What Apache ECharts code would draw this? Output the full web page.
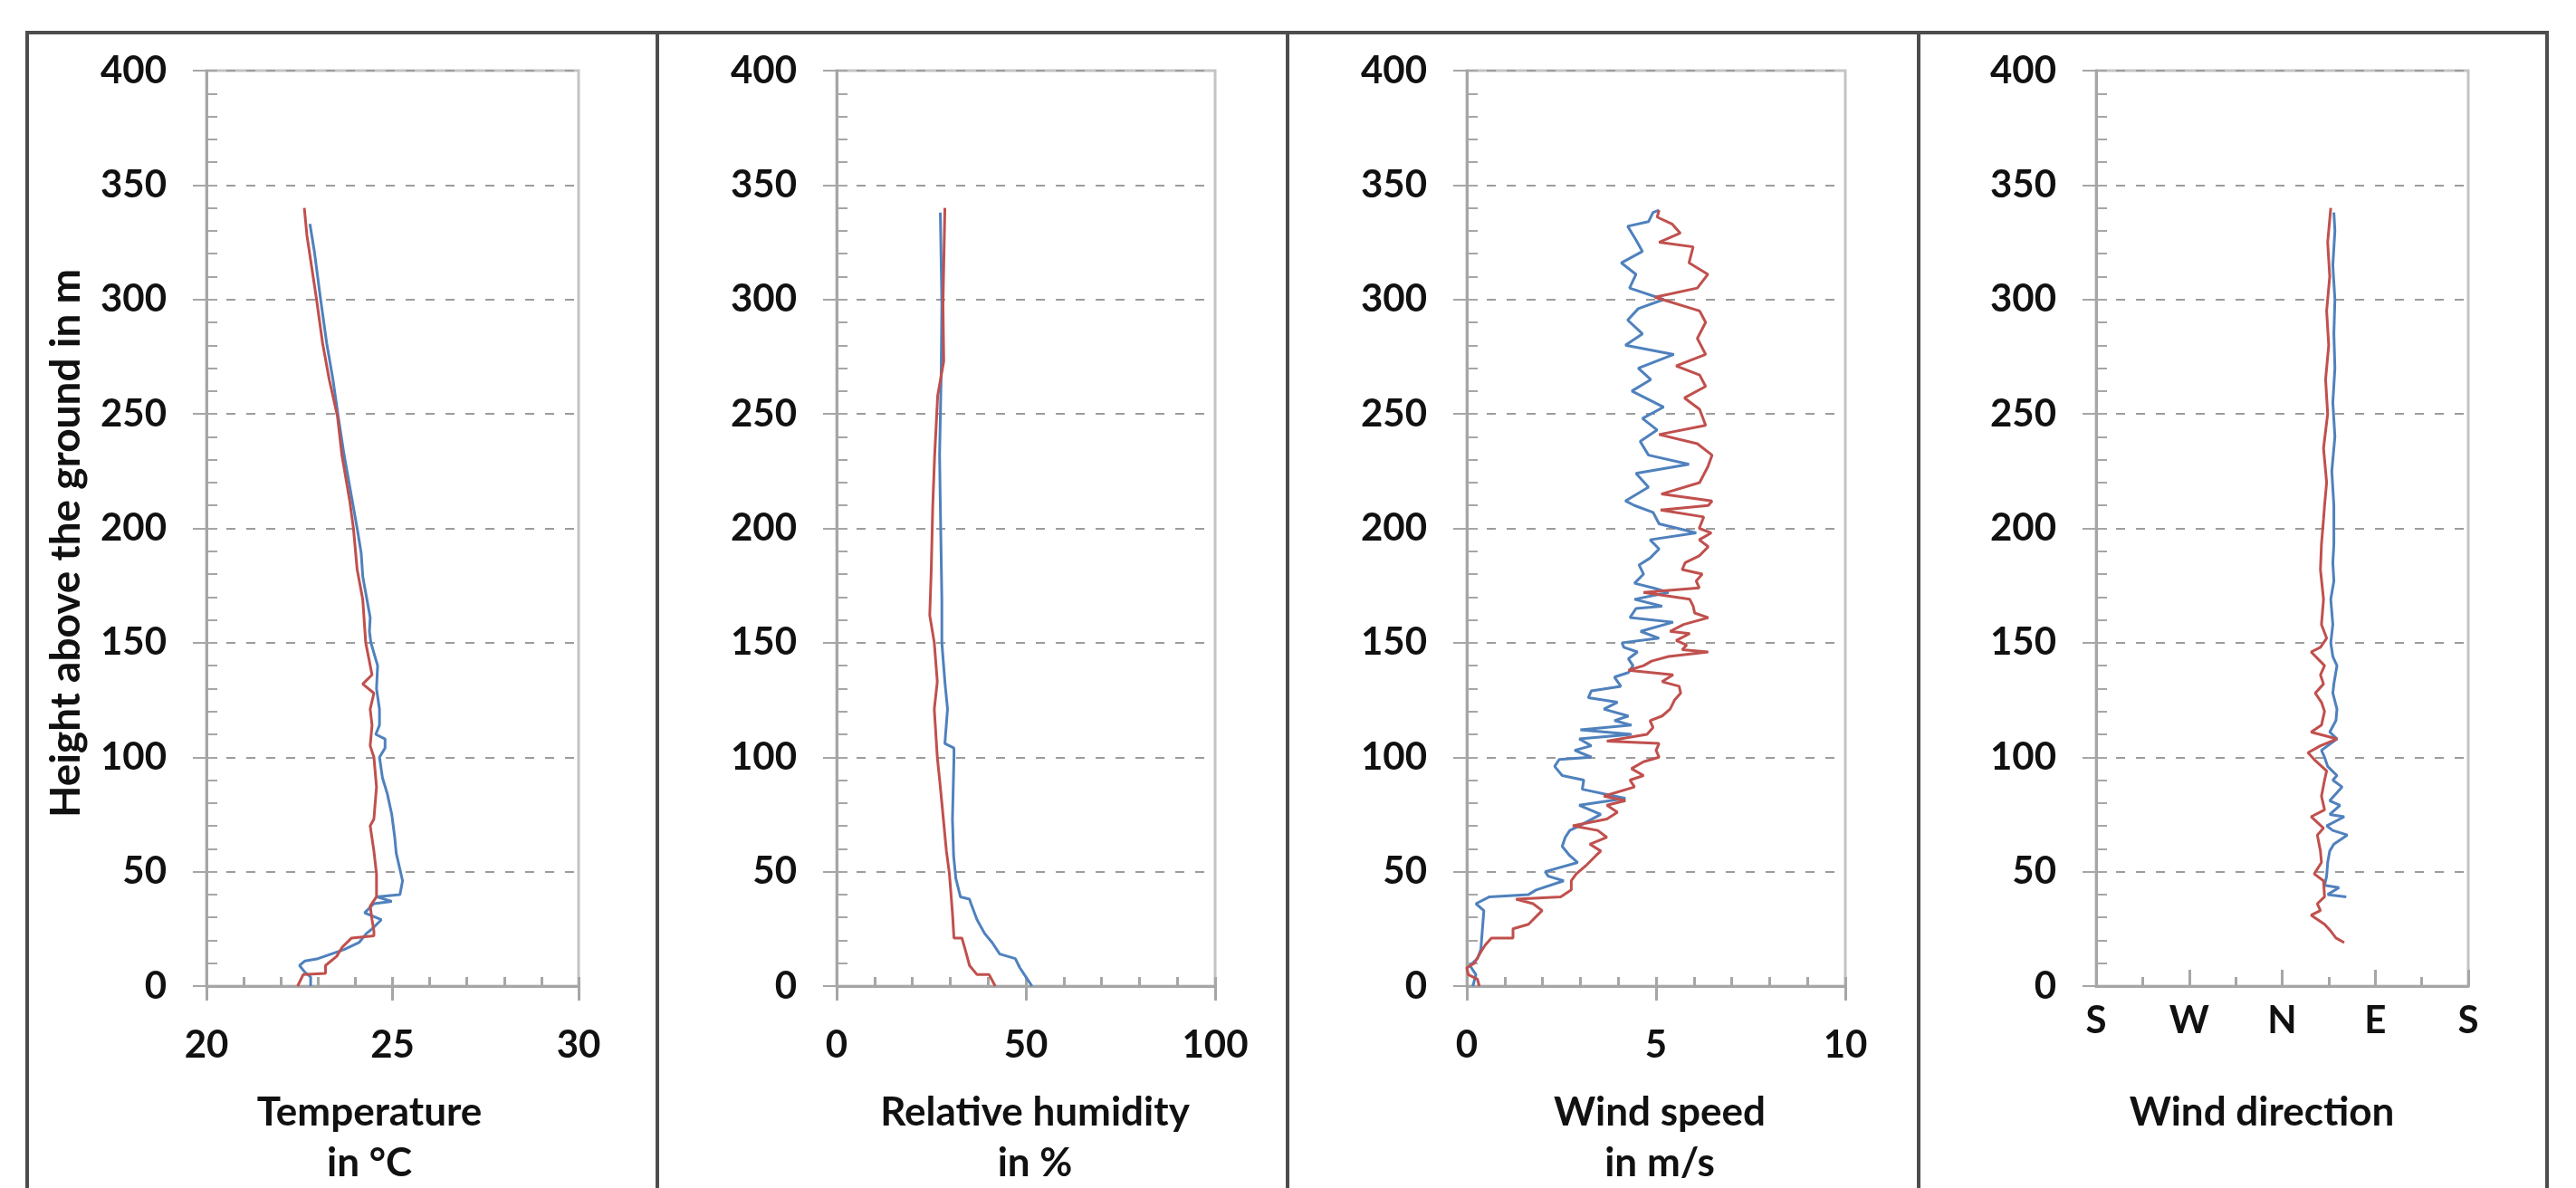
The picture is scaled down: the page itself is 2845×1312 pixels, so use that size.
<!DOCTYPE html>
<html><head><meta charset="utf-8">
<script src="https://cdn.jsdelivr.net/npm/echarts@6/dist/echarts.min.js"></script>
<style>html,body{margin:0;padding:0;background:#fff}#c{width:2845px;height:1312px}</style>
</head><body><div id="c"></div><script>
// ---- data: [value, height in m] ----
const tempBlue = [[22.8,0],[22.8,4],[22.65,6],[22.5,9],[22.65,11],[23.0,12],[23.7,16],[24.1,19],[24.3,23],[24.45,25],[24.7,29],[24.25,32],[24.5,36],[24.98,37],[24.57,39],[25.2,40],[25.27,46],[25.2,51],[25.1,58],[25.06,65],[24.98,75],[24.86,84],[24.73,91],[24.65,100],[24.8,104],[24.8,108],[24.55,110],[24.65,114],[24.65,121],[24.57,130],[24.6,140],[24.42,150],[24.38,155],[24.4,161],[24.3,170],[24.2,179],[24.16,189],[24.06,199],[23.92,212],[23.7,232],[23.54,249],[23.4,265],[23.23,281],[23.06,301],[22.9,321],[22.78,333]];
const tempRed = [[22.45,0],[22.6,5],[23.2,5.5],[23.2,9],[23.5,13],[23.65,17],[23.9,21],[24.5,22],[24.5,24],[24.45,29],[24.4,35],[24.57,39],[24.57,49],[24.5,59],[24.4,70],[24.5,73],[24.57,87],[24.5,100],[24.4,105],[24.45,114],[24.4,121],[24.5,128],[24.2,132],[24.45,136],[24.28,150],[24.2,169],[24.05,182],[23.95,200],[23.85,212],[23.64,232],[23.52,249],[23.3,265],[23.12,281],[22.95,301],[22.7,328],[22.63,340]];

const rhBlue = [[51.6,0],[50.0,4],[48.4,8],[47.2,12],[43.1,14],[41.1,19],[39.1,23],[37.1,29],[35.5,36],[35.1,38],[32.7,39],[31.5,47],[30.9,57],[30.6,73],[31.0,100],[31.0,104],[28.6,106],[29.3,121],[28.6,133],[27.8,150],[27.8,169],[27.4,210],[27.2,232],[27.6,265],[27.8,298],[27.4,338]];
const rhRed = [[41.9,0],[40.3,5],[37.1,5],[35.1,9],[34.3,14],[33.1,21],[31.0,21],[30.6,32],[29.8,49],[29.0,59],[28.2,73],[27.4,87],[26.6,100],[25.8,121],[26.6,133],[25.8,150],[24.6,162],[25.0,182],[25.4,210],[25.9,232],[26.7,258],[28.3,273],[28.1,298],[28.6,340]];

const wsBlue = [[0.16,0],[0.24,5],[0.08,9],[0.28,12],[0.37,16],[0.45,33],[0.24,36],[0.6,39],[1.63,40],[1.83,42],[2.56,46],[2.15,48],[2.07,50],[2.93,54],[2.72,57],[2.52,61],[2.6,65],[2.72,68],[2.97,70],[3.54,75],[2.97,79],[4.19,82],[3.05,86],[3.09,90],[2.52,92],[2.32,96],[2.44,99],[3.29,100],[2.85,103],[3.29,105],[2.97,108],[4.35,110],[3.0,112],[4.35,114],[3.9,116],[4.27,118],[3.62,121],[3.98,124],[3.21,126],[3.29,129],[4.07,131],[3.9,135],[4.27,137],[4.39,140],[4.27,143],[4.51,146],[4.15,148],[4.1,150],[5.08,152],[4.59,155],[5.45,159],[4.31,161],[4.47,165],[5.16,166],[4.43,169],[5.33,172],[4.92,174],[4.43,176],[4.67,180],[4.55,184],[4.84,187],[5.08,191],[4.84,195],[6.06,198],[5.08,202],[4.92,207],[4.43,210],[4.19,212],[4.8,218],[4.47,224],[5.87,228],[4.8,232],[4.58,238],[5.03,243],[4.64,248],[5.2,253],[4.36,260],[4.86,265],[4.53,270],[5.47,276],[4.19,280],[4.64,285],[4.25,291],[4.53,296],[5.2,300],[4.3,305],[4.47,311],[4.08,316],[4.64,321],[4.47,326],[4.25,332],[4.8,334],[4.92,338],[5.08,339]];
const wsRed = [[0.33,0],[0.28,3],[0.04,5],[0.0,8],[0.2,10],[0.41,16],[0.49,18],[0.65,21],[1.22,21],[1.22,25],[1.63,27],[1.87,31],[1.99,33],[1.75,36],[1.3,38],[2.48,39],[2.76,42],[2.76,46],[2.89,49],[3.17,53],[3.41,57],[3.54,59],[3.25,62],[3.7,65],[3.46,68],[2.8,70],[3.7,73],[3.98,76],[3.7,79],[4.19,81],[3.62,83],[4.43,87],[4.31,90],[4.67,92],[4.35,95],[4.67,98],[5.08,100],[5.0,103],[5.08,106],[3.7,107],[4.76,110],[4.92,113],[4.84,116],[5.16,118],[5.37,121],[5.49,125],[5.65,128],[5.61,131],[5.16,133],[5.45,136],[4.27,138],[4.67,140],[4.88,142],[5.33,144],[6.38,146],[5.69,147],[5.81,149],[5.53,151],[5.89,154],[5.37,155],[5.73,158],[6.38,161],[6.02,163],[5.98,166],[5.89,169],[4.67,172],[6.14,174],[6.06,177],[6.22,180],[5.69,182],[5.77,185],[6.14,188],[6.38,192],[6.14,195],[6.46,198],[6.14,200],[6.26,205],[5.12,208],[6.38,210],[6.48,212],[5.14,215],[6.15,220],[6.37,227],[6.48,232],[6.09,237],[5.08,241],[6.31,245],[6.15,252],[5.75,257],[6.31,262],[6.15,267],[5.53,271],[6.31,276],[6.09,283],[6.31,290],[6.15,295],[4.97,301],[6.09,305],[6.37,311],[5.87,316],[5.98,323],[5.08,325],[5.64,329],[5.42,333],[5.03,336],[5.08,339]];

// wind direction in degrees, N = 0, E = 90
const wdBlue = [[62,39],[44,40],[55,43],[41,44],[43,48],[44,54],[46,59],[50,62],[63,66],[49,68],[43,70],[60,74],[46,75],[56,79],[46,81],[58,87],[49,90],[53,92],[44,96],[41,100],[38,103],[53,108],[46,111],[52,116],[53,121],[49,128],[50,132],[53,140],[49,144],[47,150],[49,158],[47,169],[50,177],[49,185],[50,193],[50,199],[50,210],[48,225],[51,240],[49,255],[51,270],[50,285],[51,300],[49,315],[51,330],[50,338]];
const wdRed = [[60,19],[52,21],[47,24],[41,27],[28,31],[37,33],[34,36],[41,39],[40,46],[31,49],[38,54],[37,59],[34,66],[40,69],[28,74],[41,77],[38,83],[41,90],[43,94],[31,99],[25,102],[37,105],[53,108],[28,111],[38,114],[41,120],[38,124],[32,128],[40,132],[37,136],[41,140],[28,146],[37,148],[43,152],[38,158],[40,169],[37,182],[38,193],[40,204],[41,210],[43,220],[40,235],[44,250],[42,265],[45,280],[43,295],[46,310],[44,325],[47,340]];

const dirLabels = {'-180':'S','-90':'W','0':'N','90':'E','180':'S'};
const titles = [['Temperature','in °C'],['Relative humidity','in %'],['Wind speed','in m/s'],['Wind direction']];
const yTitle = 'Height above the ground in m';

// ---- layout ----
const lefts = [228, 924, 1620, 2315];
const widths = [411, 418, 418, 411];
const titleX = [408, 1143, 1833, 2498];
const TOP = 78, H = 1011;
const scales = [
  {min:20,max:30,interval:5,minor:1,margin:44,blue:tempBlue,red:tempRed},
  {min:0,max:100,interval:50,minor:10,margin:44,blue:rhBlue,red:rhRed},
  {min:0,max:10,interval:5,minor:1,margin:44,blue:wsBlue,red:wsRed},
  {min:-180,max:180,interval:90,minor:45,margin:17,blue:wdBlue,red:wdRed,dir:true}
];
const FONT = 'Lato';
const grey = '#a6a6a6';
const grid=[], xAxis=[], yAxis=[], series=[], graphic=[];
scales.forEach((s,i)=>{
  grid.push({left:lefts[i], top:TOP, width:widths[i], height:H, show:true, borderColor:'#c4c4c4', borderWidth:3, containLabel:false, outerBoundsMode:'none'});
  const xi = xAxis.length;
  xAxis.push({gridIndex:i, type:'value', position:'bottom', min:s.min, max:s.max, interval:s.interval,
    axisLine:{show:true,onZero:false,lineStyle:{color:grey,width:3}},
    axisTick:{show:!s.dir, inside:false, length:16, lineStyle:{color:grey,width:3}},
    axisLabel:{margin:s.margin, fontFamily:FONT, fontWeight:'bold', fontSize:42, color:'#111',
      formatter: s.dir ? (v=>dirLabels[String(v)]||'') : (v=>String(v))},
    splitLine:{show:false}});
  xAxis.push({gridIndex:i, type:'value', position:'bottom', min:s.min, max:s.max, interval:s.minor,
    axisLine:{show:false,onZero:false}, axisTick:{show:true,inside:true,length:10,lineStyle:{color:grey,width:3}},
    axisLabel:{show:false}, splitLine:{show:false}});
  if (s.dir) {
    xAxis.push({gridIndex:i, type:'value', position:'bottom', min:s.min, max:s.max, interval:s.interval,
      axisLine:{show:false,onZero:false}, axisTick:{show:true,inside:true,length:18,lineStyle:{color:grey,width:3}},
      axisLabel:{show:false}, splitLine:{show:false}});
  }
  const yi = yAxis.length;
  yAxis.push({gridIndex:i, type:'value', position:'left', min:0, max:400, interval:50,
    axisLine:{show:true,onZero:false,lineStyle:{color:grey,width:3}},
    axisTick:{show:true,inside:false,length:15,lineStyle:{color:grey,width:2}},
    axisLabel:{margin:44, fontFamily:FONT, fontWeight:'bold', fontSize:42, color:'#111'},
    splitLine:{show:true,lineStyle:{color:'#9c9c9c',width:2,type:[10,12]}}});
  yAxis.push({gridIndex:i, type:'value', position:'left', min:0, max:400, interval:10,
    axisLine:{show:false,onZero:false}, axisTick:{show:true,inside:true,length:12,lineStyle:{color:grey,width:2}},
    axisLabel:{show:false}, splitLine:{show:false}});
  series.push({type:'line', xAxisIndex:xi, yAxisIndex:yi, data:s.blue, showSymbol:false, symbol:'none',
    lineStyle:{color:'#4f81bd', width:3}, itemStyle:{color:'#4f81bd'}, z:3});
  series.push({type:'line', xAxisIndex:xi, yAxisIndex:yi, data:s.red, showSymbol:false, symbol:'none',
    lineStyle:{color:'#c0504d', width:3}, itemStyle:{color:'#c0504d'}, z:4});
  titles[i].forEach((t,k)=>{
    graphic.push({type:'text', x:titleX[i], y:1229+k*56,
      style:{text:t, font:'bold 44px '+FONT, fill:'#111', align:'center', verticalAlign:'middle', textAlign:'center', textVerticalAlign:'middle'}});
  });
});
graphic.push({type:'text', x:73, y:600, rotation:Math.PI/2,
  style:{text:yTitle, font:'bold 46px '+FONT, fill:'#111', align:'center', verticalAlign:'middle', textAlign:'center', textVerticalAlign:'middle'}});
// frame
const frameStroke = {stroke:'#4d4d4d', lineWidth:4};
graphic.push({type:'line', shape:{x1:28, y1:36, x2:2815, y2:36}, style:frameStroke});
[30, 726, 1422, 2119, 2813].forEach(x=>{
  graphic.push({type:'line', shape:{x1:x, y1:34, x2:x, y2:1312}, style:frameStroke});
});

const chart = echarts.init(document.getElementById('c'), null, {renderer:'canvas'});
chart.setOption({animation:false, backgroundColor:'#fff', grid, xAxis, yAxis, series, graphic});
</script></body></html>
